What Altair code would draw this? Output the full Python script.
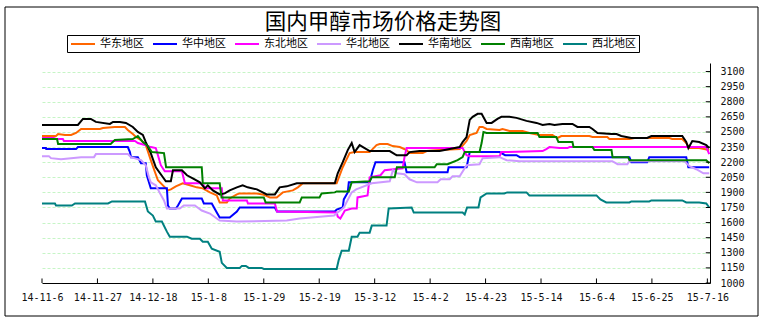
import json
import altair as alt
import pandas as pd

# ---------------- data ----------------
series_names = ["华东地区", "华中地区", "东北地区", "华北地区", "华南地区", "西南地区", "西北地区"]
series_colors = ["#FF6600", "#0000FF", "#FF00FF", "#CC99FF", "#000000", "#008000", "#008080"]

# x = days after 2014-11-06
tick_days = [0, 21, 42, 63, 84, 105, 126, 147, 168, 189, 210, 231, 252]
tick_labels = ["14-11-6", "14-11-27", "14-12-18", "15-1-8", "15-1-29", "15-2-19", "15-3-12",
               "15-4-2", "15-4-23", "15-5-14", "15-6-4", "15-6-25", "15-7-16"]
y_ticks = [1000, 1150, 1300, 1450, 1600, 1750, 1900, 2050, 2200, 2350, 2500, 2650, 2800, 2950, 3100]

east_day = [0, 5.3, 6.1, 8.7, 11, 12.9, 14.8, 21.9, 23.1, 27.6, 31.4, 32.5, 34.4, 35.6, 37.5, 39.3, 41.2, 42.8,
            43.9, 45.8, 47.7, 48.8, 50.7, 53.3, 56, 58.6, 60.9, 63.6, 66.2, 67.3, 70, 71.1, 73.8, 74.9, 81.3, 83.6,
            86.3, 88.9, 91.2, 95, 96.9, 98.8, 111.6, 113.9, 116.5, 118.4, 124.1, 126.7, 127.9, 130.9, 132.8, 135.5,
            138.1, 139.2, 144.2, 145.7, 150.6, 158.2, 160.8, 162, 164.6, 165.7, 166.9, 168.4, 173.3, 174.4, 177.1,
            182, 184.6, 188.4, 193.3, 195.2, 196.7, 207.3, 208.5, 214.1, 214.9, 222.5, 224.4, 237.6, 238.7, 242.5,
            244, 245.2, 248.9, 252.7]
east_val = [2460, 2460, 2480, 2470, 2470, 2490, 2530, 2530, 2540, 2550, 2550, 2520, 2480, 2450, 2420, 2370, 2220, 2100,
            2020, 1970, 1920, 1930, 1960, 1990, 1970, 1950, 1940, 1900, 1870, 1800, 1800, 1840, 1880, 1890, 1890, 1880,
            1850, 1850, 1900, 1920, 1950, 1990, 1990, 2150, 2290, 2300, 2300, 2370, 2380, 2380, 2360, 2350,
            2320, 2290, 2290, 2310, 2320, 2330, 2410, 2470, 2490, 2550, 2550, 2530, 2520, 2530, 2510,
            2510, 2490, 2470, 2470, 2440, 2460, 2460, 2450, 2450, 2430, 2430, 2440, 2440, 2430, 2430,
            2390, 2340, 2340, 2320]

central_day = [0, 1.5, 1.6, 12.9, 13.6, 32.5, 33.3, 33.7, 36.3, 37.5, 39.3, 39.7, 41.2, 47.3, 47.7, 48.4, 50.7, 51.5,
               53, 60.5, 61.3, 64.3, 66.2, 67.3, 71.1, 73.8, 74.9, 88.2, 89, 110.9, 111.6, 113.9, 114.3, 115.8, 116.2,
               124.1, 125.3, 126.3, 137.3, 138.1, 153.6, 154, 160.8, 161.2, 162, 173.3, 175.4, 179.7, 181, 222.5,
               223.2, 229.2, 230, 244, 244.8, 252.7]
central_val = [2340, 2340, 2330, 2330, 2350, 2350, 2300, 2250, 2250, 2190, 2190, 2070, 1940, 1940, 1770, 1740, 1740, 1770,
               1840, 1840, 1790, 1790, 1700, 1650, 1650, 1710, 1750, 1750, 1710, 1710, 1730, 1750, 1830, 1900, 2000,
               2000, 2120, 2200, 2200, 2100, 2100, 2150, 2150, 2200, 2300, 2300, 2270, 2270, 2250, 2250,
               2200, 2200, 2250, 2250, 2150, 2150]

northeast_day = [0, 4.5, 5.3, 7.9, 8.3, 35.2, 36.3, 39, 41.2, 43.1, 43.9, 45, 46.5, 53, 54.1, 60.9, 61.7, 68.1, 68.5,
                 77.6, 78, 88.2, 89, 111.6, 112, 113, 114.3, 114.7, 117.3, 119.2, 119.5, 123.3, 124.1, 128.2, 129.8,
                 136.6, 137.3, 138.1, 159.3, 160.8, 162, 173.3, 174, 189.6, 191, 192.2, 196, 199, 199.8, 251.6, 252.7]
northeast_val = [2440, 2440, 2430, 2430, 2410, 2410, 2390, 2370, 2350, 2340, 2270, 2170, 2110, 2110, 1990, 1990, 1940, 1940,
                 1820, 1820, 1790, 1790, 1710, 1700, 1660, 1640, 1700, 1720, 1740, 1740, 1850, 1870, 2050, 2070, 2120,
                 2140, 2250, 2340, 2340, 2270, 2260, 2260, 2300, 2310, 2330, 2350, 2340, 2340, 2350, 2350, 2280]

north_day = [0, 2.6, 3.4, 7.2, 11, 14.8, 19.7, 20.4, 32.5, 33.7, 37.5, 39.3, 40.5, 41.2, 43.1, 44.7, 46.2, 47.3, 52.2,
             53.7, 57.9, 60.5, 63.6, 67.3, 73.8, 92.7, 97.6, 102, 110.6, 112, 114.3, 117.3, 119, 124.9, 131.7, 132.9,
             134.3, 137.3, 139.2, 142, 149.8, 151, 154.4, 155.5, 158.2, 160.8, 165.7, 166.9, 173.3, 176, 181, 216,
             218, 221.7, 222.5, 243.3, 245.2, 247.8, 250.5, 252.7]
north_val = [2260, 2260, 2240, 2230, 2240, 2250, 2250, 2280, 2280, 2250, 2220, 2170, 2050, 2000, 1970, 1890, 1820, 1740, 1740,
             1770, 1770, 1720, 1690, 1620, 1610, 1620, 1640, 1650, 1670, 1700, 1750, 1900, 1930, 1990, 2010, 2120,
             2090, 2080, 2030, 2000, 2000, 2030, 2030, 2060, 2060, 2170, 2180, 2240, 2250, 2220, 2210, 2210,
             2180, 2180, 2210, 2210, 2160, 2130, 2090, 2090]

south_day = [0, 13.6, 15.5, 18.5, 20.4, 25.7, 26.9, 29.5, 31.8, 34.4, 36.3, 38.2, 39.3, 41.2, 43.1, 45.8, 46.9, 48.8,
             49.6, 53, 54.9, 57.1, 59.8, 61.7, 62.8, 64.7, 67.3, 69.2, 71.1, 73.8, 76, 77.9, 81.4, 83.6, 85.1, 88.2,
             90, 92.7, 96.5, 110.9, 112, 113.9, 115.8, 117.3, 118.4, 120.3, 122.2, 124.1, 131.7, 133.6, 134.3, 138.1,
             139.2, 143, 150.6, 154.4, 158.2, 159.3, 160.8, 162, 163.1, 165, 166.5, 168.4, 170.3, 172.5, 174, 177,
             179.7, 183.5, 187.3, 189.6, 192.2, 194.1, 197.1, 200.9, 202.8, 207.3, 208.5, 210.4, 215.7, 217.6, 219.4,
             221.3, 223.2, 229.2, 230.8, 242.5, 244, 244.8, 246.3, 248.9, 251.6, 252.7]
south_val = [2570, 2570, 2630, 2630, 2600, 2580, 2600, 2600, 2590, 2550, 2500, 2470, 2400, 2290, 2150, 2050, 2010, 2010,
             2120, 2120, 2070, 2040, 2000, 1940, 1970, 1920, 1880, 1890, 1920, 1950, 1970, 1950, 1930, 1900, 1880, 1880,
             1950, 1960, 1990, 1990, 2090, 2200, 2320, 2390, 2300, 2370, 2340, 2310, 2310, 2280, 2270, 2270,
             2300, 2310, 2310, 2330, 2350, 2400, 2450, 2620, 2650, 2680, 2680, 2590, 2590, 2630, 2650, 2650,
             2640, 2610, 2590, 2570, 2580, 2570, 2580, 2580, 2550, 2550, 2530, 2490, 2480, 2480, 2460,
             2450, 2440, 2440, 2460, 2460, 2400, 2340, 2410, 2400, 2370, 2340]

southwest_day = [0, 5.7, 6.1, 26, 27.6, 34.4, 36.3, 38.2, 40.1, 41.6, 46.2, 47, 60.5, 60.9, 67.3, 68, 84, 84.7, 97.6,
                 98.4, 105.1, 105.9, 110.9, 111.6, 116.2, 117.3, 124.1, 124.9, 133.6, 134.4, 148.7, 149.5, 153.6,
                 157.4, 159.3, 160.1, 165.7, 166.5, 167.2, 168.4, 187.7, 188.4, 194.8, 195.6, 200.9, 201.3, 208.5,
                 209.2, 215.7, 216.1, 222, 222.5, 251.6, 252.7]
southwest_val = [2430, 2430, 2380, 2380, 2420, 2430, 2460, 2400, 2360, 2300, 2290, 2150, 2150, 1990, 1990, 1850, 1850, 1800,
                 1800, 1850, 1850, 1890, 1900, 1910, 1910, 2000, 2010, 2050, 2050, 2150, 2150, 2180, 2180,
                 2220, 2250, 2300, 2300, 2390, 2500, 2490, 2490, 2450, 2450, 2400, 2400, 2350, 2350,
                 2320, 2320, 2250, 2250, 2220, 2220, 2190]

northwest_day = [0, 4.9, 5.3, 11.3, 12.5, 25, 26.5, 39, 40.1, 42, 43.1, 45.4, 47.3, 48.4, 54.9, 56.7, 59.8, 60.9, 62.8,
                 64.3, 67.3, 68.1, 70, 74.9, 75.7, 77.2, 78.3, 83.2, 84, 111.6, 112.4, 113.5, 116.2, 117.3, 119.5,
                 120.3, 124.1, 124.9, 130.5, 131.3, 140, 140.8, 159.3, 160.1, 161, 165.3, 166.1, 168.4, 175.1, 176.2,
                 183.5, 184.6, 210, 211.5, 213.7, 222.5, 223.2, 230, 230.8, 242.5, 244, 248.9, 251.6, 252.7]
northwest_val = [1790, 1790, 1770, 1770, 1790, 1790, 1810, 1810, 1710, 1670, 1610, 1610, 1510, 1460, 1460, 1440, 1440, 1410,
                 1410, 1340, 1310, 1200, 1150, 1150, 1170, 1170, 1150, 1150, 1140, 1140, 1230, 1320, 1320, 1460, 1460,
                 1500, 1500, 1570, 1570, 1740, 1750, 1700, 1700, 1680, 1750, 1750, 1850, 1890, 1890, 1900,
                 1900, 1870, 1870, 1830, 1800, 1800, 1810, 1810, 1820, 1820, 1800, 1800, 1790, 1750]

all_days = [east_day, central_day, northeast_day, north_day, south_day, southwest_day, northwest_day]
all_vals = [east_val, central_val, northeast_val, north_val, south_val, southwest_val, northwest_val]

rows = []
for name, days, vals in zip(series_names, all_days, all_vals):
    for d, v in zip(days, vals):
        rows.append({"series": name, "day": d, "price": v})
df = pd.DataFrame(rows)

# ---------------- chart ----------------
X_MAX = 253
Y_MIN, Y_MAX = 1000, 3185
x_scale = alt.Scale(domain=[0, X_MAX], nice=False, zero=False)
y_scale = alt.Scale(domain=[Y_MIN, Y_MAX], nice=False, zero=False)

# the last date label sits flush against the right end, as in the reference
label_expr = (json.dumps(tick_labels) + "[round(datum.value / 21)]"
              + " + (datum.value == 252 ? '\u00a0\u00a0\u00a0\u00a0\u00a0\u00a0\u00a0' : '')")

x_axis = alt.Axis(values=tick_days, labelExpr=label_expr, grid=False, ticks=False, domain=True,
                  domainColor="black", domainWidth=1, labelFont="DejaVu Sans Mono", labelFontSize=10,
                  labelColor="#111111", labelPadding=9, labelFlush=False, labelOverlap=False, title=None)
y_axis = alt.Axis(orient="right", values=y_ticks, format="d", grid=True, gridColor="#C6F5C6", gridDash=[3, 2],
                  gridWidth=1, ticks=False, domain=True, domainColor="black", domainWidth=1,
                  labelFont="DejaVu Sans Mono", labelFontSize=10, labelColor="#111111", labelPadding=10, title=None)

lines = alt.Chart(df).mark_line(strokeWidth=2).encode(
    x=alt.X("day:Q", scale=x_scale, axis=x_axis),
    y=alt.Y("price:Q", scale=y_scale, axis=y_axis),
    color=alt.Color("series:N", sort=series_names,
                    scale=alt.Scale(domain=series_names, range=series_colors),
                    legend=alt.Legend(orient="none", legendX=25, legendY=-28, direction="horizontal",
                                      columns=7, title=None, symbolType="M-1,0H3.8", symbolSize=100,
                                      symbolStrokeWidth=2, labelFont="Noto Sans CJK SC", labelFontSize=11,
                                      labelColor="black", labelOffset=18, columnPadding=5, padding=3,
                                      strokeColor="black", fillColor="white")),
)

ytick_df = pd.DataFrame({"tick": y_ticks, "x1": [X_MAX - 1.6] * len(y_ticks), "x2": [X_MAX] * len(y_ticks)})
ytick_rules = alt.Chart(ytick_df).mark_rule(color="black", strokeWidth=1).encode(
    y=alt.Y("tick:Q", scale=y_scale, axis=y_axis),
    x=alt.X("x1:Q", scale=x_scale, axis=x_axis),
    x2="x2:Q",
)
xtick_df = pd.DataFrame({"tick": tick_days, "y1": [Y_MIN] * len(tick_days), "y2": [Y_MIN + 45] * len(tick_days)})
xtick_rules = alt.Chart(xtick_df).mark_rule(color="black", strokeWidth=1).encode(
    x=alt.X("tick:Q", scale=x_scale, axis=x_axis),
    y=alt.Y("y1:Q", scale=y_scale, axis=y_axis),
    y2="y2:Q",
)

# outer chart frame (decoration around the whole figure)
frame = alt.Chart(pd.DataFrame({"f": [0]})).mark_rect(fillOpacity=0, stroke="black", strokeWidth=1).encode(
    x=alt.value(-37), x2=alt.value(716), y=alt.value(-56), y2=alt.value(253)
)

chart = alt.layer(lines, ytick_rules, xtick_rules, frame).properties(
    width=668, height=220,
    autosize=alt.AutoSizeParams(type="none"),
    padding={"left": 42, "top": 63, "right": 56, "bottom": 43},
    background="white",
    title=alt.TitleParams("国内甲醇市场价格走势图", font="Noto Sans CJK SC", fontSize=21.5, fontWeight="normal",
                          color="black", anchor="middle", dx=7, dy=31, offset=4),
).configure_view(strokeWidth=0)

chart.save("out.html", embed_options={"renderer": "svg", "actions": False})
